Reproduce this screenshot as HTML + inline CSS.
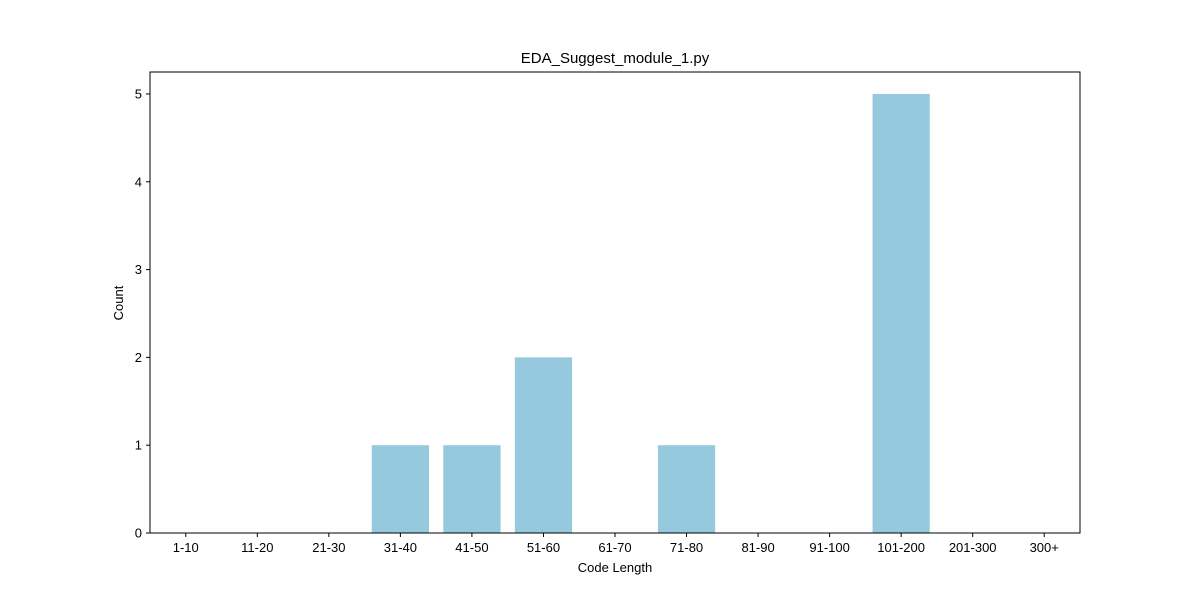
<!DOCTYPE html>
<html><head><meta charset="utf-8"><style>
body{margin:0;background:#fff}
svg text{font-family:"Liberation Sans","DejaVu Sans",sans-serif;font-size:13px;fill:#000}
</style></head><body>
<svg id="chart" width="1200" height="600" xmlns="http://www.w3.org/2000/svg">
<rect width="1200" height="600" fill="#fff"/>
<text x="615" y="63" text-anchor="middle" style="font-size:15px">EDA_Suggest_module_1.py</text>
<g id="bars"></g>
<g id="axes"></g>
<rect x="150" y="72" width="930" height="461" fill="none" stroke="#000" stroke-width="1"/>
<text x="615" y="572" text-anchor="middle">Code Length</text>
<text transform="translate(123,303) rotate(-90)" text-anchor="middle">Count</text>
</svg>
<script>
const categories=["1-10","11-20","21-30","31-40","41-50","51-60","61-70","71-80","81-90","91-100","101-200","201-300","300+"];
const counts=[0,0,0,1,1,2,0,1,0,0,5,0,0];
const yTicks=[0,1,2,3,4,5];
const NS="http://www.w3.org/2000/svg";
const L=150,R=1080,T=72,B=533,yMax=5.25;
const step=(R-L)/categories.length;
const xs=i=>L+(i+0.5)*step;
const ys=v=>B-(v/yMax)*(B-T);
const bars=document.getElementById('bars'),axes=document.getElementById('axes');
function mk(t,a){const e=document.createElementNS(NS,t);for(const k in a)e.setAttribute(k,a[k]);return e;}
categories.forEach((c,i)=>{
  const v=counts[i];
  const r=mk('rect',{x:xs(i)-0.4*step,y:ys(v),width:0.8*step,height:B-ys(v),fill:'#96c9dd'});
  
  
  bars.appendChild(r);
  const tk=mk('line',{x1:xs(i),x2:xs(i),y1:B,y2:B+4,stroke:'#000'});
  
  
  axes.appendChild(tk);
  const tl=mk('text',{x:xs(i),y:B+19,'text-anchor':'middle'});
  tl.textContent=c;
  
  
  axes.appendChild(tl);
});
yTicks.forEach(v=>{
  const tk=mk('line',{x1:L-4,x2:L,y1:ys(v),y2:ys(v),stroke:'#000'});
  
  
  axes.appendChild(tk);
  const tl=mk('text',{x:L-8,y:ys(v)+4.5,'text-anchor':'end'});
  tl.textContent=v;
  
  
  axes.appendChild(tl);
});
</script>
</body></html>
